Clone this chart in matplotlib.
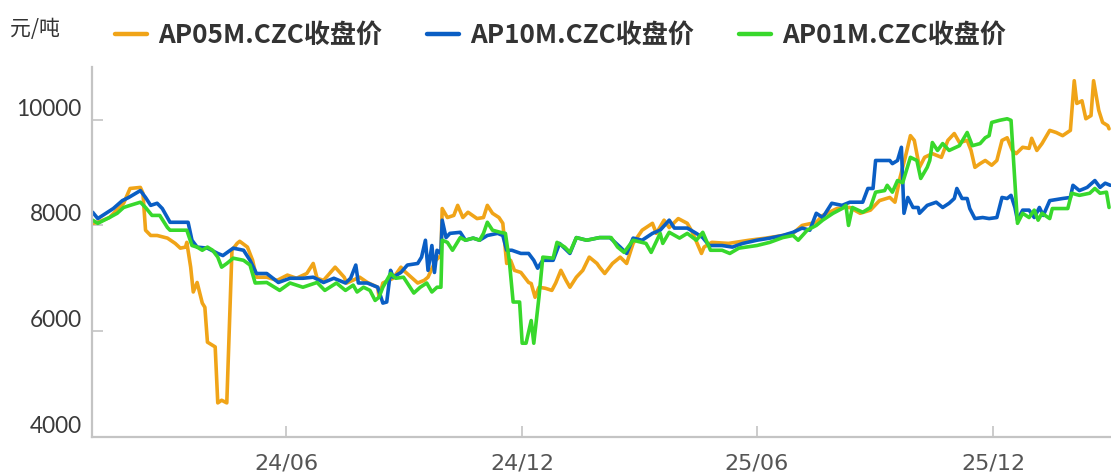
import matplotlib
matplotlib.use('Agg')
import matplotlib.pyplot as plt
import matplotlib.transforms as mtransforms
from matplotlib.font_manager import FontProperties
import pandas as pd

# ---------------- data ----------------
ap05_dates = ['2024-01-03','2024-01-07','2024-01-16','2024-01-27','2024-02-01','2024-02-09','2024-02-11','2024-02-13',
    '2024-02-17','2024-02-22','2024-03-01','2024-03-07','2024-03-11','2024-03-15','2024-03-16','2024-03-19','2024-03-21',
    '2024-03-24','2024-03-28','2024-03-30','2024-04-01','2024-04-07','2024-04-09','2024-04-12','2024-04-16','2024-04-20',
    '2024-04-24','2024-04-26','2024-05-02','2024-05-06','2024-05-09','2024-05-17','2024-05-25','2024-06-02','2024-06-09',
    '2024-06-17','2024-06-22','2024-06-25','2024-06-30','2024-07-09','2024-07-16','2024-07-18','2024-07-28','2024-08-03',
    '2024-08-11','2024-08-12','2024-08-15','2024-08-23','2024-08-29','2024-08-31','2024-09-06','2024-09-11','2024-09-16',
    '2024-09-19','2024-09-25','2024-09-29','2024-09-30','2024-10-04','2024-10-09','2024-10-12','2024-10-16','2024-10-20',
    '2024-10-27','2024-11-01','2024-11-04','2024-11-08','2024-11-13','2024-11-16','2024-11-19','2024-11-22','2024-11-25',
    '2024-11-30','2024-12-06','2024-12-08','2024-12-11','2024-12-14','2024-12-19','2024-12-24','2024-12-27','2024-12-31',
    '2025-01-04','2025-01-07','2025-01-12','2025-01-17','2025-01-22','2025-01-28','2025-01-30','2025-02-03','2025-02-09',
    '2025-02-15','2025-02-20','2025-02-25','2025-03-04','2025-03-12','2025-03-15','2025-03-21','2025-03-25','2025-04-01',
    '2025-04-08','2025-04-12','2025-04-19','2025-04-21','2025-04-27','2025-05-10','2025-05-26','2025-06-08','2025-06-21',
    '2025-06-29','2025-07-06','2025-07-17','2025-07-22','2025-08-02','2025-08-09','2025-08-12','2025-08-20','2025-08-28',
    '2025-09-04','2025-09-12','2025-09-16','2025-09-20','2025-09-24','2025-09-28','2025-10-01','2025-10-05','2025-10-09',
    '2025-10-15','2025-10-22','2025-10-27','2025-11-01','2025-11-05','2025-11-11','2025-11-14','2025-11-17','2025-11-21',
    '2025-11-25','2025-11-30','2025-12-04','2025-12-08','2025-12-12','2025-12-16','2025-12-19','2025-12-24','2025-12-29',
    '2025-12-31','2026-01-04','2026-01-08','2026-01-14','2026-01-19','2026-01-24','2026-01-30','2026-02-02','2026-02-04',
    '2026-02-08','2026-02-11','2026-02-15','2026-02-17','2026-02-21','2026-02-24','2026-02-28','2026-03-01']
ap05_values = [8040,8060,8150,8420,8700,8720,8610,7910,
    7810,7810,7760,7660,7570,7590,7680,7210,6740,
    6920,6530,6450,5790,5700,4640,4690,4640,7530,
    7660,7700,7590,7340,7020,7020,6960,7060,7000,
    7090,7280,7000,6960,7210,7020,6910,7020,6920,
    6830,6640,6910,7000,7210,7150,7020,6910,6960,
    7020,7340,7430,8320,8150,8190,8380,8150,8250,
    8130,8150,8380,8230,8150,8040,7280,7340,7150,
    7110,6920,6900,6640,6830,6810,6770,6910,7150,
    6960,6830,7020,7150,7400,7280,7210,7090,7280,
    7400,7280,7660,7910,8040,7850,8100,7960,8130,
    8040,7870,7470,7590,7680,7660,7720,7760,7810,
    7850,8000,8060,8190,8320,8340,8340,8230,8290,
    8470,8530,8440,8910,9290,9700,9610,9100,9290,
    9360,9290,9610,9740,9570,9610,9420,9100,9170,
    9230,9140,9230,9610,9660,9420,9360,9480,9460,
    9650,9420,9550,9800,9760,9700,9800,10740,10310,
    10360,10020,10080,10740,10180,9950,9890,9830]

ap10_dates = ['2024-01-03','2024-01-07','2024-01-19','2024-01-26','2024-01-31','2024-02-09','2024-02-13','2024-02-17',
    '2024-02-22','2024-02-26','2024-03-03','2024-03-17','2024-03-20','2024-03-24','2024-04-01','2024-04-09','2024-04-13',
    '2024-04-21','2024-04-29','2024-05-04','2024-05-09','2024-05-17','2024-05-26','2024-06-04','2024-06-14','2024-06-22',
    '2024-06-30','2024-07-08','2024-07-17','2024-07-21','2024-07-25','2024-07-27','2024-08-03','2024-08-11','2024-08-15',
    '2024-08-18','2024-08-21','2024-08-23','2024-08-29','2024-09-03','2024-09-11','2024-09-14','2024-09-17','2024-09-19',
    '2024-09-22','2024-09-24','2024-09-26','2024-09-29','2024-09-30','2024-10-03','2024-10-06','2024-10-14','2024-10-18',
    '2024-10-24','2024-10-29','2024-11-04','2024-11-12','2024-11-16','2024-11-19','2024-11-23','2024-11-30','2024-12-06',
    '2024-12-10','2024-12-13','2024-12-17','2024-12-25','2024-12-28','2024-12-30','2025-01-07','2025-01-12','2025-01-20',
    '2025-01-30','2025-02-07','2025-02-15','2025-02-20','2025-02-25','2025-03-04','2025-03-12','2025-03-18','2025-03-25',
    '2025-03-29','2025-04-08','2025-04-15','2025-04-20','2025-04-25','2025-05-05','2025-05-13','2025-05-21','2025-06-01',
    '2025-06-11','2025-06-21','2025-06-29','2025-07-06','2025-07-12','2025-07-17','2025-07-22','2025-07-29','2025-08-06',
    '2025-08-12','2025-08-22','2025-08-26','2025-08-30','2025-09-01','2025-09-12','2025-09-14','2025-09-18','2025-09-21',
    '2025-09-23','2025-09-26','2025-09-30','2025-10-04','2025-10-05','2025-10-11','2025-10-18','2025-10-23','2025-10-28',
    '2025-11-01','2025-11-03','2025-11-07','2025-11-11','2025-11-13','2025-11-17','2025-11-23','2025-11-28','2025-12-04',
    '2025-12-08','2025-12-12','2025-12-15','2025-12-18','2025-12-20','2025-12-24','2025-12-29','2026-01-02','2026-01-06',
    '2026-01-09','2026-01-14','2026-01-24','2026-01-30','2026-02-01','2026-02-06','2026-02-12','2026-02-18','2026-02-22',
    '2026-02-26','2026-03-02']
ap10_values = [8250,8130,8320,8470,8530,8660,8530,8380,
    8420,8320,8060,8060,7720,7590,7570,7470,7430,
    7570,7530,7340,7090,7090,6920,7000,7000,7020,
    6920,7000,6910,7000,7250,6910,6910,6830,6530,
    6550,7150,7020,7110,7250,7280,7400,7720,7150,
    7620,7110,7530,7470,8100,7770,7850,7870,7720,
    7760,7720,7810,7850,7810,7530,7530,7470,7470,
    7340,7190,7340,7340,7530,7660,7470,7770,7720,
    7770,7770,7590,7470,7760,7720,7850,7910,8100,
    7950,7950,7850,7770,7620,7620,7590,7660,7720,
    7760,7810,7870,7950,7910,8230,8150,8420,8380,
    8440,8440,8700,8700,9230,9230,9170,9230,9480,
    8230,8530,8340,8340,8230,8380,8440,8340,8420,
    8510,8700,8510,8510,8320,8130,8150,8130,8150,
    8530,8510,8570,8340,8100,8290,8290,8150,8340,
    8190,8470,8510,8530,8760,8660,8720,8850,8720,
    8800,8760]

ap01_dates = ['2024-01-03','2024-01-07','2024-01-16','2024-01-22','2024-01-27','2024-02-01','2024-02-09','2024-02-13',
    '2024-02-18','2024-02-24','2024-03-01','2024-03-03','2024-03-16','2024-03-20','2024-03-24','2024-03-28','2024-04-01',
    '2024-04-05','2024-04-09','2024-04-12','2024-04-16','2024-04-21','2024-04-29','2024-05-04','2024-05-08','2024-05-17',
    '2024-05-27','2024-06-04','2024-06-14','2024-06-25','2024-07-01','2024-07-10','2024-07-17','2024-07-23','2024-07-26',
    '2024-07-31','2024-08-05','2024-08-09','2024-08-12','2024-08-15','2024-08-21','2024-08-25','2024-08-31','2024-09-08',
    '2024-09-13','2024-09-18','2024-09-22','2024-09-26','2024-09-29','2024-09-30','2024-10-04','2024-10-08','2024-10-14',
    '2024-10-18','2024-10-24','2024-10-29','2024-11-01','2024-11-04','2024-11-08','2024-11-14','2024-11-18','2024-11-21',
    '2024-11-24','2024-11-29','2024-12-01','2024-12-04','2024-12-08','2024-12-10','2024-12-14','2024-12-17','2024-12-25',
    '2024-12-28','2025-01-03','2025-01-07','2025-01-12','2025-01-20','2025-01-30','2025-02-08','2025-02-13','2025-02-18',
    '2025-02-25','2025-03-07','2025-03-11','2025-03-18','2025-03-20','2025-03-25','2025-04-02','2025-04-08','2025-04-15',
    '2025-04-20','2025-04-26','2025-05-05','2025-05-11','2025-05-18','2025-06-01','2025-06-11','2025-06-21','2025-06-29',
    '2025-07-03','2025-07-10','2025-07-17','2025-07-22','2025-07-30','2025-08-06','2025-08-09','2025-08-11','2025-08-14',
    '2025-08-22','2025-08-28','2025-09-01','2025-09-08','2025-09-10','2025-09-14','2025-09-18','2025-09-22','2025-09-28',
    '2025-10-03','2025-10-06','2025-10-11','2025-10-13','2025-10-15','2025-10-19','2025-10-23','2025-10-28','2025-11-05',
    '2025-11-11','2025-11-15','2025-11-21','2025-11-25','2025-11-28','2025-11-30','2025-12-06','2025-12-12','2025-12-15',
    '2025-12-20','2025-12-24','2025-12-29','2026-01-02','2026-01-05','2026-01-08','2026-01-14','2026-01-16','2026-01-28',
    '2026-01-31','2026-02-06','2026-02-14','2026-02-18','2026-02-22','2026-02-27','2026-03-01']
ap01_values = [8100,8040,8150,8230,8340,8380,8440,8340,
    8190,8190,7960,7910,7910,7620,7590,7530,7590,
    7530,7400,7210,7280,7380,7340,7250,6910,6920,
    6770,6910,6830,6920,6770,6910,6770,6870,6740,
    6830,6770,6580,6640,6830,7090,7000,7020,6720,
    6830,6910,6740,6830,6830,7720,7680,7530,7770,
    7720,7760,7720,7850,8060,7910,7870,7850,7340,
    6550,6550,5770,5770,6200,5770,6640,7400,7380,
    7680,7590,7490,7770,7720,7770,7770,7590,7490,
    7720,7660,7490,7850,7660,7870,7760,7850,7720,
    7870,7530,7530,7470,7570,7620,7680,7770,7810,
    7720,7910,8000,8100,8230,8320,8380,8000,8340,
    8250,8340,8630,8660,8760,8630,8850,8810,9290,
    9230,8890,9100,9230,9570,9420,9550,9420,9510,
    9760,9510,9550,9660,9700,9950,9990,10020,9990,
    8040,8230,8150,8290,8100,8230,8130,8320,8320,
    8610,8570,8610,8700,8610,8630,8340]

series_names = ['AP05M.CZC收盘价', 'AP10M.CZC收盘价', 'AP01M.CZC收盘价']
series_colors = ['#F0A418', '#0A5EC4', '#38D82C']
x_tick_dates = ['2024-06-01', '2024-12-01', '2025-06-01', '2025-12-01']
x_tick_labels = ['24/06', '24/12', '25/06', '25/12']
y_ticks = [4000, 6000, 8000, 10000]
y_tick_labels = ['4000', '6000', '8000', '10000']
unit_label = '元/吨'

# ---------------- figure ----------------
W, H = 1111, 476
fig = plt.figure(figsize=(W / 100, H / 100), dpi=100)
fig.patch.set_facecolor('white')
ax = fig.add_axes([92 / W, (H - 436.7) / H, (W - 92) / W, (436.7 - 67) / H])

all_dates = [ap05_dates, ap10_dates, ap01_dates]
all_values = [ap05_values, ap10_values, ap01_values]
for d, v, name, c in zip(all_dates, all_values, series_names, series_colors):
    ax.plot(pd.to_datetime(d), v, color=c, lw=2.6, label=name,
            solid_joinstyle='round', solid_capstyle='round', clip_on=True)

ax.set_xlim(pd.Timestamp('2024-01-02 12:00'), pd.Timestamp('2026-03-02 12:00'))
ax.set_ylim(4000, 11000)

spine_col = '#C4C4C4'
for s in ['top', 'right']:
    ax.spines[s].set_visible(False)
for s in ['left', 'bottom']:
    ax.spines[s].set_color(spine_col)
    ax.spines[s].set_linewidth(1.6)

ax.set_xticks(pd.to_datetime(x_tick_dates))
ax.set_xticklabels(x_tick_labels, fontsize=16, color='#555555',
                   family=['Liberation Sans Narrow', 'DejaVu Sans'])
ax.set_yticks(y_ticks)
ax.set_yticklabels(y_tick_labels, fontsize=16.3, color='#3a3a3a', family=['Lato', 'DejaVu Sans'])
ax.tick_params(axis='both', direction='in', length=8, width=1.2, color=spine_col)
ax.tick_params(axis='y', pad=7.5)
ax.tick_params(axis='x', pad=12)

offset = mtransforms.ScaledTranslation(0, 12.6 / 100, fig.dpi_scale_trans)
for lab in ax.get_yticklabels():
    lab.set_transform(lab.get_transform() + offset)

leg = fig.legend(loc='center left', bbox_to_anchor=(115 / W, 1 - 35.7 / H), ncol=3,
                 frameon=False, borderpad=0, borderaxespad=0,
                 handlelength=1.23, handletextpad=0.42, columnspacing=1.72,
                 prop=FontProperties(family=['Noto Sans CJK SC', 'DejaVu Sans'], weight='bold', size=18.8),
                 labelcolor='#333333')
for ln in leg.get_lines():
    ln.set_linewidth(3.2)

fig.text(10 / W, 1 - 29 / H, unit_label, family=['Noto Sans CJK SC', 'DejaVu Sans'],
         fontsize=15, color='#333333', ha='left', va='center')

fig.savefig('out.png', dpi=100, facecolor='white')
